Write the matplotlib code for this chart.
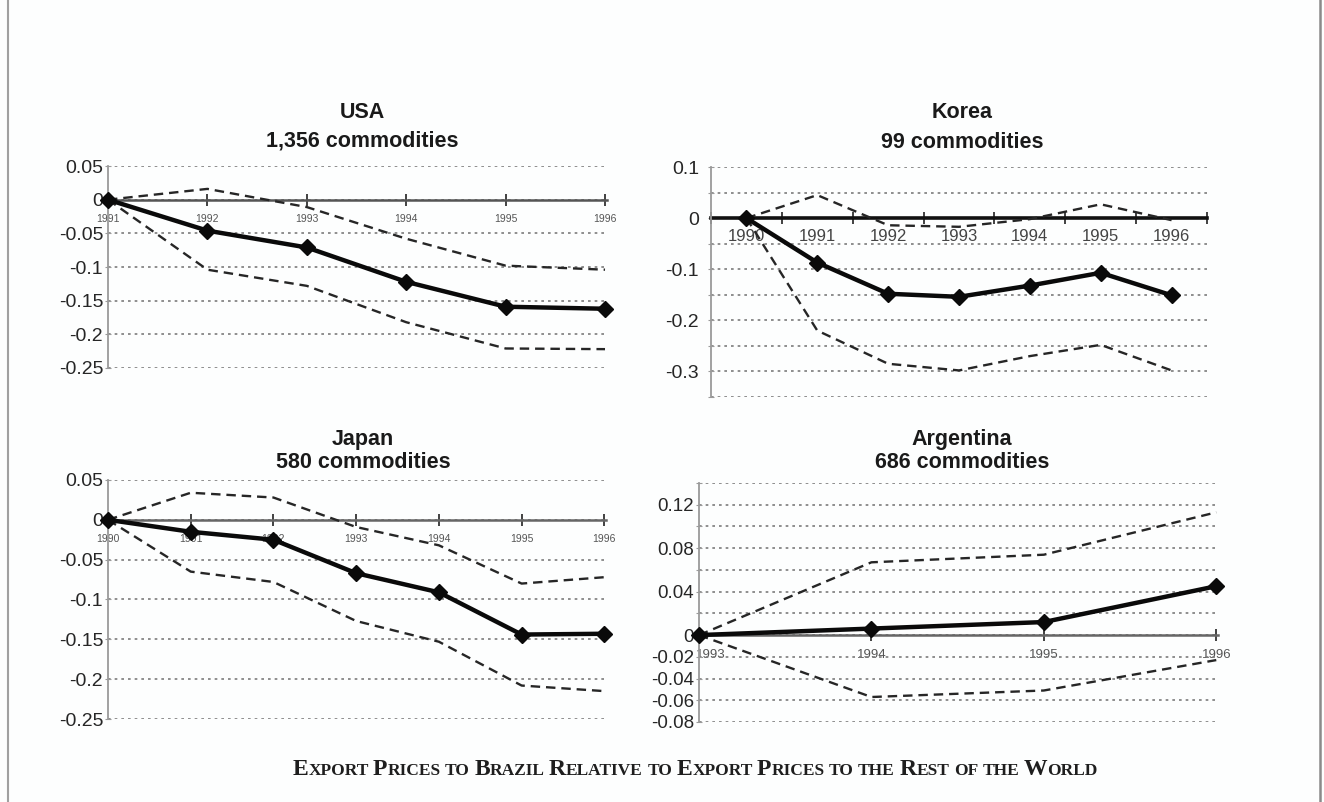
import numpy as np
import matplotlib
matplotlib.use("Agg")
import matplotlib.pyplot as plt
import matplotlib.transforms as mtransforms
from matplotlib.lines import Line2D

W, H = 1324, 802

# ---- data ----
usa_years = [1991, 1992, 1993, 1994, 1995, 1996]
usa_mid = [0, -0.046, -0.071, -0.122, -0.159, -0.162]
usa_hi = [0, 0.016, -0.011, -0.058, -0.098, -0.104]
usa_lo = [0, -0.104, -0.128, -0.182, -0.221, -0.222]
usa_yticks = [0.05, 0, -0.05, -0.1, -0.15, -0.2, -0.25]
usa_ylabels = ["0.05", "0", "-0.05", "-0.1", "-0.15", "-0.2", "-0.25"]

kor_years = [1990, 1991, 1992, 1993, 1994, 1995, 1996]
kor_mid = [0, -0.087, -0.148, -0.154, -0.132, -0.107, -0.151]
kor_hi = [0, 0.045, -0.014, -0.017, -0.002, 0.027, -0.004]
kor_lo = [0, -0.220, -0.285, -0.298, -0.270, -0.248, -0.298]
kor_yticks = [0.1, 0.05, 0, -0.05, -0.1, -0.15, -0.2, -0.25, -0.3, -0.35]
kor_ylabels = ["0.1", "", "0", "", "-0.1", "", "-0.2", "", "-0.3", ""]

jpn_years = [1990, 1991, 1992, 1993, 1994, 1995, 1996]
jpn_mid = [0, -0.015, -0.025, -0.067, -0.091, -0.144, -0.143]
jpn_hi = [0, 0.034, 0.028, -0.009, -0.032, -0.080, -0.072]
jpn_lo = [0, -0.065, -0.078, -0.127, -0.153, -0.208, -0.215]
jpn_yticks = [0.05, 0, -0.05, -0.1, -0.15, -0.2, -0.25]
jpn_ylabels = ["0.05", "0", "-0.05", "-0.1", "-0.15", "-0.2", "-0.25"]

arg_years = [1993, 1994, 1995, 1996]
arg_mid = [0, 0.006, 0.012, 0.045]
arg_hi = [0, 0.067, 0.074, 0.113]
arg_lo = [0, -0.057, -0.051, -0.023]
arg_yticks = [0.14, 0.12, 0.10, 0.08, 0.06, 0.04, 0.02, 0, -0.02, -0.04, -0.06, -0.08]
arg_ylabels = ["", "0.12", "", "0.08", "", "0.04", "", "0", "-0.02", "-0.04", "-0.06", "-0.08"]

titles = [("USA", "1,356 commodities"), ("Korea", "99 commodities"),
          ("Japan", "580 commodities"), ("Argentina", "686 commodities")]
caption = "Export Prices to Brazil Relative to Export Prices to the Rest of the World"

plt.rcParams["font.family"] = ["Liberation Sans", "DejaVu Sans"]

fig = plt.figure(figsize=(W / 100, H / 100), dpi=100, facecolor="#fdfefe")


def add_ax(left, right, top, bottom):
    return fig.add_axes([left / W, 1 - bottom / H, (right - left) / W, (bottom - top) / H])


def panel(ax, years, mid, hi, lo, yticks, ylabels, xlim, xsize, xpad, zero_lw, zero_col, ysize):
    ax.set_facecolor("none")
    ax.set_xlim(*xlim)
    ax.set_ylim(min(yticks), max(yticks))
    ax.set_yticks(yticks)
    ax.set_yticklabels(ylabels)
    for s in ["top", "right"]:
        ax.spines[s].set_visible(False)
    ax.spines["left"].set_color("#9a9a9a")
    ax.spines["left"].set_linewidth(1.3)
    ax.spines["bottom"].set_position(("data", 0))
    ax.spines["bottom"].set_color(zero_col)
    ax.spines["bottom"].set_linewidth(zero_lw)
    ax.spines["bottom"].set_zorder(1)
    ax.yaxis.grid(True, linestyle=(0, (1.6, 2.4)), color="#7c7c7c", lw=1.2)
    ax.set_axisbelow(True)
    ax.tick_params(axis="y", direction="inout", length=5, color="#9a9a9a",
                   labelsize=ysize, labelcolor="#262626", pad=1)
    ax.tick_params(axis="x", direction="inout", length=8, width=1.3, color="#333333",
                   labelsize=xsize, labelcolor="#555555", pad=xpad)
    ax.plot(years, hi, color="#262626", lw=1.7, ls=(0, (4, 2.5)), clip_on=False, zorder=3)
    ax.plot(years, lo, color="#262626", lw=1.7, ls=(0, (4, 2.5)), clip_on=False, zorder=3)
    ax.plot(years, mid, color="#0a0a0a", lw=3.2, marker="D", ms=8, clip_on=False, zorder=4)


# USA
ax1 = add_ax(108, 607, 166, 368)
panel(ax1, usa_years, usa_mid, usa_hi, usa_lo, usa_yticks, usa_ylabels,
      (1991, 1996.02), 7.5, 6, 1.8, "#555555", 14)
ax1.set_xticks(usa_years)

# Korea (category style axis)
ax2 = add_ax(711, 1207, 167, 397)
panel(ax2, kor_years, kor_mid, kor_hi, kor_lo, kor_yticks, kor_ylabels,
      (1989.5, 1996.5), 10, 9, 2.6, "#111111", 14)
ax2.set_xticks([y - 0.5 for y in kor_years] + [kor_years[-1] + 0.5])
ax2.set_xticklabels([])
ax2.set_xticks(kor_years, minor=True)
ax2.set_xticklabels([str(y) for y in kor_years], minor=True)
ax2.tick_params(axis="x", which="minor", length=0, labelsize=12, labelcolor="#444444", pad=8)
ax2.tick_params(axis="y", pad=6)

# Japan
ax3 = add_ax(108, 606, 480, 719)
panel(ax3, jpn_years, jpn_mid, jpn_hi, jpn_lo, jpn_yticks, jpn_ylabels,
      (1990, 1996.02), 7.5, 6, 1.8, "#666666", 14)
ax3.set_xticks(jpn_years)

# Argentina
ax4 = add_ax(699, 1218, 483, 722)
panel(ax4, arg_years, arg_mid, arg_hi, arg_lo, arg_yticks, arg_ylabels,
      (1993, 1996.01), 9.5, 6, 1.8, "#666666", 13.5)
ax4.set_xticks(arg_years)
# first year label sits just right of the axis, clear of the y labels
first = ax4.get_xticklabels()[0]
first.set_transform(first.get_transform() + mtransforms.ScaledTranslation(12 / 100, 0, fig.dpi_scale_trans))

# panel titles
title_pos = [(362, 113, 141), (962, 113, 143), (363, 440, 463), (962, 440, 463)]
for (t1, t2), (cx, y1, y2) in zip(titles, title_pos):
    fig.text(cx / W, 1 - y1 / H, t1, ha="center", va="center", fontsize=15.5,
             fontweight="bold", color="#1a1a1a")
    fig.text(cx / W, 1 - y2 / H, t2, ha="center", va="center", fontsize=15.5,
             fontweight="bold", color="#1a1a1a")

# caption in small caps, built word by word
renderer = fig.canvas.get_renderer()
words = caption.split(" ")
pieces = []
for i, word in enumerate(words):
    if word[0].isupper():
        pieces.append((word[0], 17))
        if len(word) > 1:
            pieces.append((word[1:].upper(), 12.5))
    else:
        pieces.append((word.upper(), 12.5))
    if i < len(words) - 1:
        pieces.append((" ", 12.5))

x = 0
texts = []
for s, fs in pieces:
    t = fig.text(x / W, 1 - 775 / H, s, ha="left", va="baseline", fontsize=fs,
                 family=["Liberation Serif"], fontweight="bold", color="#1e1e1e")
    w = t.get_window_extent(renderer).width
    texts.append((t, x))
    x += w
start = 695 - x / 2
for t, px in texts:
    t.set_x((start + px) / W)

# frame lines at the page edges
fig.add_artist(Line2D([8 / W, 8 / W], [0, 1], color="#a0a0a0", lw=1.5))
fig.add_artist(Line2D([1320 / W, 1320 / W], [0, 1], color="#8a8a8a", lw=1.8))

fig.savefig("out.png", dpi=100, facecolor=fig.get_facecolor())
